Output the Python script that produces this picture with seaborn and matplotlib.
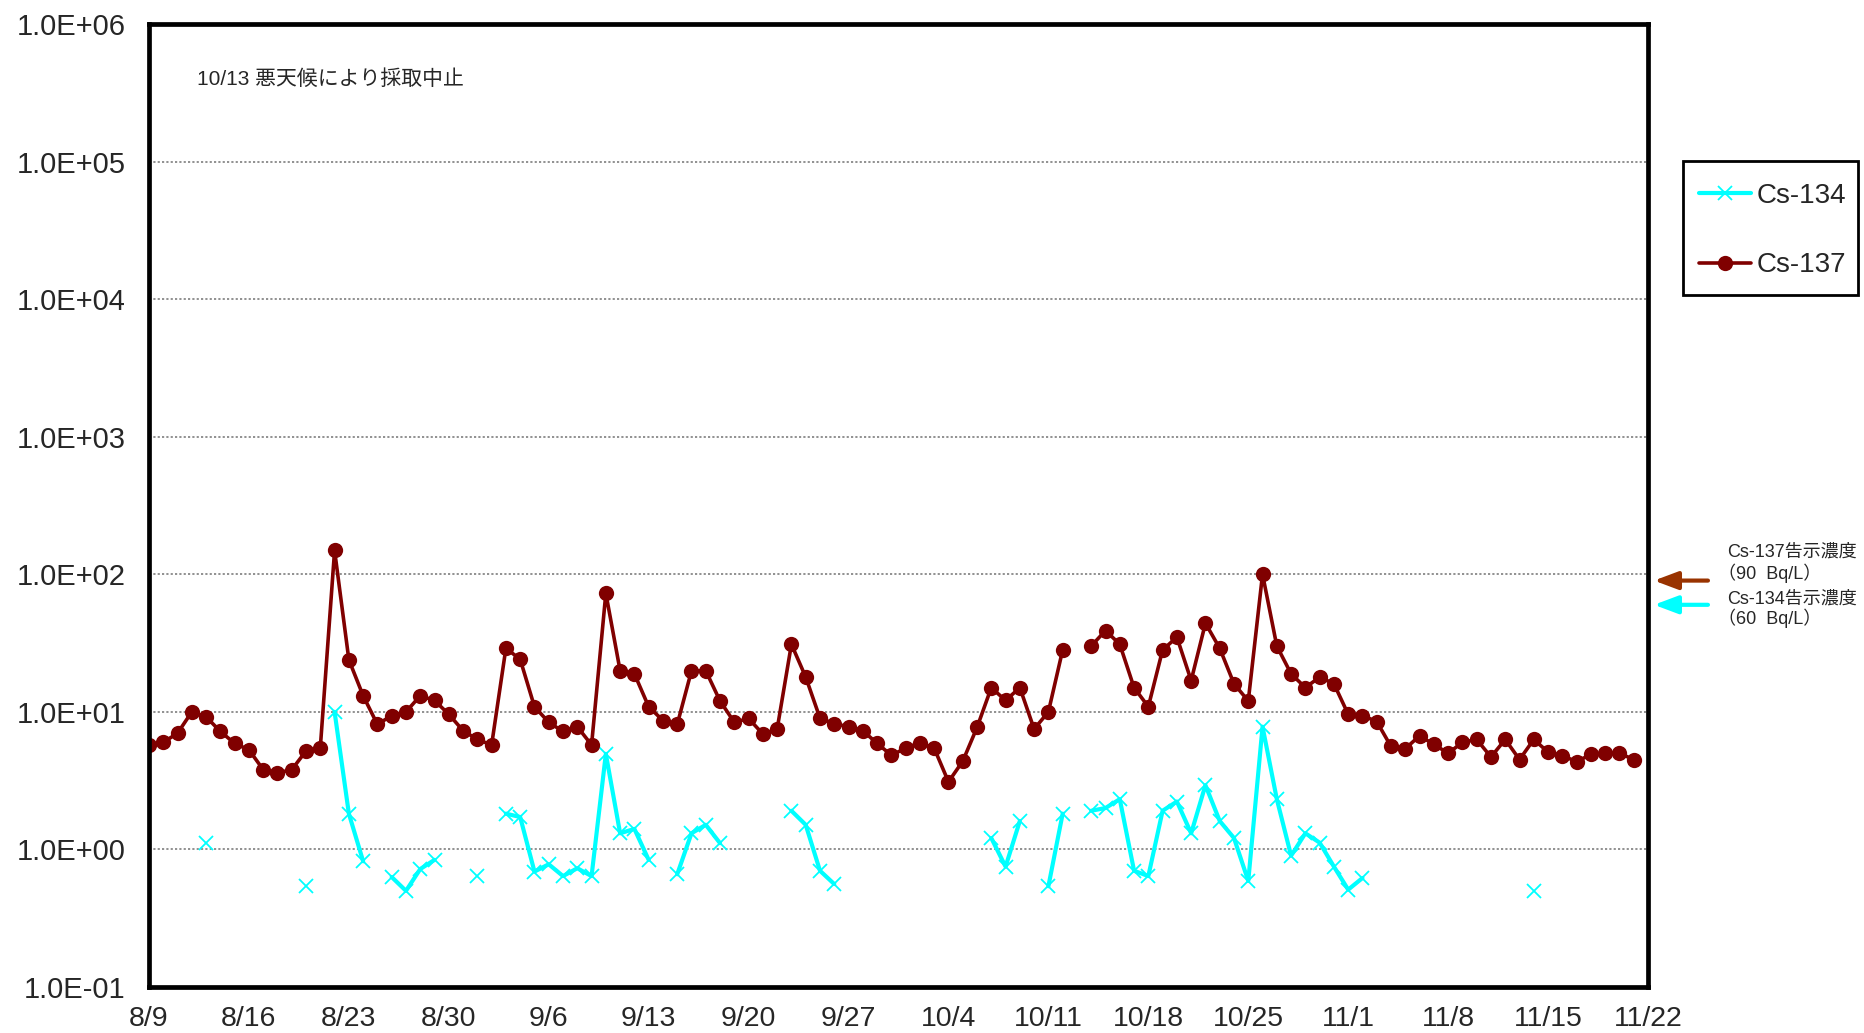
import numpy as np
import pandas as pd
import matplotlib
matplotlib.use("Agg")
import matplotlib.pyplot as plt
from matplotlib.lines import Line2D
from matplotlib.patches import Rectangle
import seaborn as sns

nan = np.nan

# ---- data -------------------------------------------------------------
n_days = 105  # 8/9 .. 11/21

cs134 = [nan, nan, nan, nan, 1.11, nan, nan, nan, nan, nan,
         nan, 0.54, nan, 10.0, 1.82, 0.82, nan, 0.63, 0.50, 0.72,
         0.84, nan, nan, 0.64, nan, 1.82, 1.72, 0.69, 0.78, 0.64,
         0.73, 0.64, 4.95, 1.31, 1.41, 0.84, nan, 0.66, 1.31, 1.51,
         1.11, nan, nan, nan, nan, 1.91, 1.51, 0.70, 0.56, nan,
         nan, nan, nan, nan, nan, nan, nan, nan, nan, 1.21,
         0.75, 1.61, nan, 0.54, 1.82, nan, 1.91, 2.00, 2.32, 0.70,
         0.64, 1.91, 2.23, 1.31, 2.93, 1.61, 1.21, 0.59, 7.8, 2.32,
         0.90, 1.31, 1.12, 0.75, 0.51, 0.62, nan, nan, nan, nan,
         nan, nan, nan, nan, nan, nan, nan, 0.50, nan, nan,
         nan, nan, nan, nan, nan]

cs137 = [5.7, 6.0, 7.0, 10.0, 9.2, 7.2, 5.9, 5.3, 3.8, 3.6,
         3.8, 5.2, 5.5, 149.0, 23.9, 13.1, 8.1, 9.4, 10.0, 13.1,
         12.1, 9.6, 7.3, 6.3, 5.75, 29.0, 24.1, 10.9, 8.4, 7.2,
         7.8, 5.75, 72.8, 19.9, 18.9, 10.9, 8.65, 8.1, 19.9, 19.9,
         12.0, 8.4, 8.95, 6.9, 7.5, 31.0, 17.9, 9.0, 8.2, 7.8,
         7.3, 5.9, 4.84, 5.44, 5.98, 5.44, 3.10, 4.38, 7.7, 15.0,
         12.1, 15.0, 7.5, 10.0, 28.2, nan, 30.1, 39.0, 31.0, 15.0,
         10.9, 28.2, 34.9, 16.9, 44.1, 29.0, 16.0, 12.0, 100.0, 30.1,
         18.9, 15.0, 17.9, 16.0, 9.6, 9.4, 8.5, 5.6, 5.4, 6.7,
         5.8, 5.0, 6.0, 6.3, 4.7, 6.3, 4.5, 6.3, 5.1, 4.8,
         4.35, 4.9, 5.0, 5.0, 4.5]

x_tick_labels = ["8/9", "8/16", "8/23", "8/30", "9/6", "9/13", "9/20", "9/27",
                 "10/4", "10/11", "10/18", "10/25", "11/1", "11/8", "11/15", "11/22"]
y_tick_labels = ["1.0E-01", "1.0E+00", "1.0E+01", "1.0E+02",
                 "1.0E+03", "1.0E+04", "1.0E+05", "1.0E+06"]
series_names = ["Cs-134", "Cs-137"]
limit_137 = 90
limit_134 = 60
note_text = "10/13 悪天候により採取中止"

# ---- build long table with contiguous segments ------------------------
days = np.arange(n_days)


def segments(vals, name):
    v = pd.Series(vals, dtype=float)
    seg = v.isna().cumsum()
    df = pd.DataFrame({"day": days, "val": v, "seg": seg, "nuclide": name})
    return df.dropna()


d134 = segments(cs134, series_names[0])
d137 = segments(cs137, series_names[1])

# ---- style ------------------------------------------------------------
sns.set_theme(style="white")
plt.rcParams["font.family"] = ["Liberation Sans", "Noto Sans CJK JP", "DejaVu Sans"]

W, H = 1865, 1033
fig = plt.figure(figsize=(W / 100, H / 100), dpi=100)
L, R, T, B = 149, 1648, 24, 987
ax = fig.add_axes([L / W, 1 - B / H, (R - L) / W, (B - T) / H])

c134 = "#00FFFF"
c137 = "#800000"

sns.lineplot(data=d134, x="day", y="val", units="seg", estimator=None,
             color=c134, lw=3.0, marker="x", markersize=10,
             markeredgewidth=1.3, markeredgecolor=c134, ax=ax, legend=False)
sns.lineplot(data=d137, x="day", y="val", units="seg", estimator=None,
             color=c137, lw=2.6, marker="o", markersize=11,
             markeredgewidth=0, markerfacecolor=c137, ax=ax, legend=False)

ax.set_yscale("log")
ax.set_ylim(0.1, 1e6)
ax.set_xlim(0, 105)
ax.set_xlabel("")
ax.set_ylabel("")

yt = [10.0 ** k for k in range(-1, 7)]
ax.set_yticks(yt)
ax.set_yticklabels(y_tick_labels)
ax.yaxis.set_minor_locator(matplotlib.ticker.NullLocator())
ax.set_xticks(np.arange(0, 106, 7))
ax.set_xticklabels(x_tick_labels)

ax.tick_params(axis="y", which="both", length=0, pad=17, labelsize=21)
ax.tick_params(axis="x", direction="in", length=6, width=1, color="#555555",
               pad=14, labelsize=20.5)
ax.grid(axis="y", which="major", color="#888888", linestyle=(0, (1.2, 1.2)),
        linewidth=1.3)
ax.grid(axis="x", visible=False)
for s in ax.spines.values():
    s.set_visible(True)
    s.set_color("black")
    s.set_linewidth(3.4)

# legend box (drawn explicitly) + frameless legend inside
fig.patches.append(Rectangle((1683 / W, 1 - 295 / H), 175 / W, 134 / H,
                             transform=fig.transFigure, fill=False,
                             edgecolor="black", linewidth=2.0))
handles = [Line2D([], [], color=c134, lw=3.0, marker="x", markersize=10,
                  markeredgewidth=1.3),
           Line2D([], [], color=c137, lw=2.6, marker="o", markersize=11,
                  markeredgewidth=0)]
leg = fig.legend(handles, series_names, loc="upper left",
                 bbox_to_anchor=(1693 / W, 1 - 177 / H),
                 bbox_transform=fig.transFigure, fontsize=20,
                 frameon=False, handlelength=1.9, handletextpad=0.2,
                 labelspacing=1.58, borderpad=0.2, borderaxespad=0)

# note
fig.text(197 / W, 1 - 79 / H, note_text, fontsize=15, va="center", ha="left",
         family=["Liberation Sans", "Noto Sans CJK JP"])

# limit arrows
for val, col in [(limit_137, "#993300"), (limit_134, c134)]:
    ax.annotate("", xy=(1.004, val), xycoords=("axes fraction", "data"),
                xytext=(1.040, val), textcoords=("axes fraction", "data"),
                arrowprops=dict(arrowstyle="-|>,head_length=1.2,head_width=0.45",
                                color=col, lw=3, shrinkA=0, shrinkB=0),
                annotation_clip=False)

lab = [("Cs-137告示濃度", 552), (f"（{limit_137}  Bq/L）", 573),
       ("Cs-134告示濃度", 599), (f"（{limit_134}  Bq/L）", 618)]
for t, yy in lab:
    xx = 1727 if not t.startswith("（") else 1718
    fig.text(xx / W, 1 - yy / H, t, fontsize=13, va="center", ha="left",
             family=["Liberation Sans", "Noto Sans CJK JP"])

fig.savefig("out.png", dpi=100)
